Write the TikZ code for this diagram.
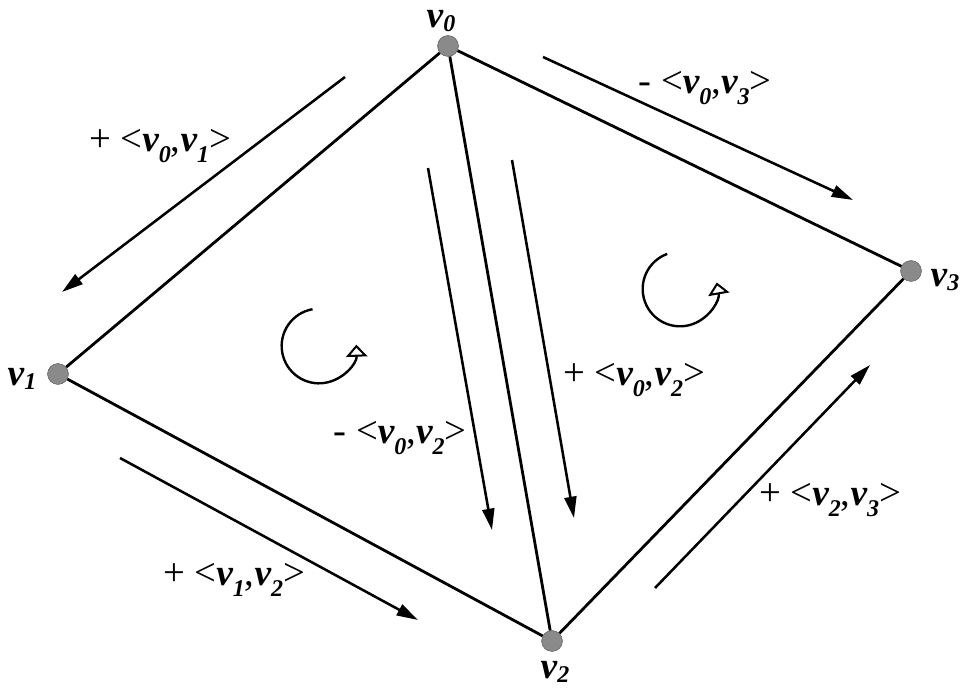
\documentclass[tikz,border=0pt]{standalone}
\usepackage{fontspec}
\setmainfont{Liberation Serif}
\usetikzlibrary{arrows.meta}
\newcommand{\vsub}[1]{{\fontsize{28}{30}\selectfont\bfseries\itshape v}\raisebox{-0.3em}{\fontsize{18}{20}\selectfont\bfseries\itshape #1}}
\newcommand{\pairlab}[3]{#1\ \textless\vsub{#2},\vsub{#3}\textgreater}
\definecolor{dotgray}{RGB}{138,138,138}
\begin{document}
\begin{tikzpicture}[x=0.75pt,y=0.75pt,
  vertex/.style={circle,fill=dotgray,draw=dotgray!80!black,line width=0.4pt,minimum size=15.5pt,inner sep=0pt},
  edge/.style={line width=2.1pt},
  dirarrow/.style={line width=1.9pt,-{Triangle[length=16pt,width=9pt]}},
  rotarrow/.style={line width=1.8pt,-{Triangle[open,length=9pt,width=16pt,line width=1.5pt,fill=white]}},
  lab/.style={font=\fontsize{29}{30}\selectfont,inner sep=0pt},
  vlab/.style={inner sep=0pt}]
\useasboundingbox (0,0) rectangle (966,691);
% vertices
\node[vertex] (v0) at (448,645) {};
\node[vertex] (v1) at (58,317) {};
\node[vertex] (v2) at (552,50) {};
\node[vertex] (v3) at (911,420) {};
% edges
\draw[edge] (v0) -- (v1);
\draw[edge] (v0) -- (v2);
\draw[edge] (v0) -- (v3);
\draw[edge] (v1) -- (v2);
\draw[edge] (v2) -- (v3);
% redraw dots on top
\node[vertex] at (v0) {};
\node[vertex] at (v1) {};
\node[vertex] at (v2) {};
\node[vertex] at (v3) {};
% vertex labels
\node[vlab] (t0) at (441,670) {\vsub{0}};
\node[vlab] (t1) at (22,312) {\vsub{1}};
\node[vlab] (t2) at (555,19) {\vsub{2}};
\node[vlab] (t3) at (945,411) {\vsub{3}};
% direction arrows
\coordinate (a01s) at (345,614); \coordinate (a01e) at (62,399);
\coordinate (a03s) at (543,634); \coordinate (a03e) at (853,491);
\coordinate (aLs) at (428,523);  \coordinate (aLe) at (492,161);
\coordinate (aRs) at (512,531);  \coordinate (aRe) at (574,173);
\coordinate (a12s) at (120,233); \coordinate (a12e) at (418,71);
\coordinate (a23s) at (655,103); \coordinate (a23e) at (870,326);
\draw[dirarrow] (a01s) -- (a01e);
\draw[dirarrow] (a03s) -- (a03e);
\draw[dirarrow] (aLs) -- (aLe);
\draw[dirarrow] (aRs) -- (aRe);
\draw[dirarrow] (a12s) -- (a12e);
\draw[dirarrow] (a23s) -- (a23e);
% labels
\node[lab] (l01) at (160,545) {\pairlab{+}{0}{1}};
\node[lab] (l03) at (705,603) {\pairlab{-}{0}{3}};
\node[lab] (lL) at (400,253) {\pairlab{-}{0}{2}};
\node[lab] (lR) at (634,311) {\pairlab{+}{0}{2}};
\node[lab] (l12) at (234,111) {\pairlab{+}{1}{2}};
\node[lab] (l23) at (830,191) {\pairlab{+}{2}{3}};
% rotation arrows
\coordinate (c1) at (319,345);
\coordinate (c2) at (680,402);
\draw[rotarrow] (c1) ++(100:28pt) arc[start angle=100,end angle=362,radius=28pt];
\draw[rotarrow] (c2) ++(110:28pt) arc[start angle=110,end angle=370,radius=28pt];
\end{tikzpicture}
\end{document}
